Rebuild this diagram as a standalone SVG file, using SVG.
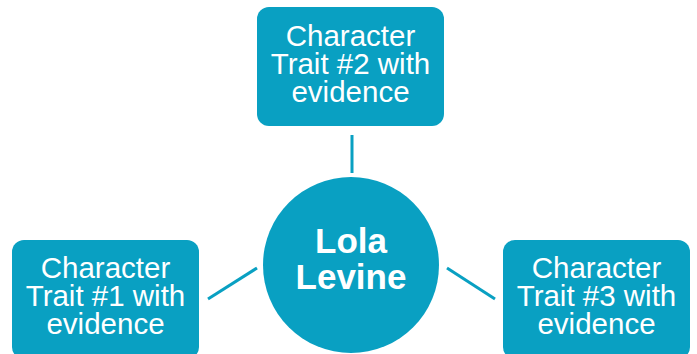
<svg xmlns="http://www.w3.org/2000/svg" width="697" height="354" viewBox="0 0 697 354">
<style>
.box{fill:#09a0c2}
.t{font-family:"Liberation Sans",Arial,sans-serif;font-size:29.5px;fill:#fff;text-anchor:middle}
.c{font-family:"Liberation Sans",Arial,sans-serif;font-size:35px;font-weight:bold;fill:#fff;text-anchor:middle}
.ln{stroke:#09a0c2;stroke-width:3;fill:none}
</style>
<rect width="697" height="354" fill="#fff"/>
<g id="connectors">
<line class="ln" x1="352" y1="135" x2="352" y2="173"/>
<line class="ln" x1="208" y1="299" x2="257" y2="268"/>
<line class="ln" x1="447" y1="268" x2="495" y2="299"/>
</g>
<g id="trait2">
<rect class="box" x="257" y="7" width="187" height="119" rx="12"/>
<text class="t" x="350.5" y="46">Character</text>
<text class="t" x="350.5" y="74">Trait #2 with</text>
<text class="t" x="350.5" y="102">evidence</text>
</g>
<g id="center">
<circle class="box" cx="351" cy="265" r="88"/>
<text class="c" x="351" y="253">Lola</text>
<text class="c" x="351" y="289">Levine</text>
</g>
<g id="trait1">
<rect class="box" x="12" y="240" width="187" height="119" rx="12"/>
<text class="t" x="105.5" y="278">Character</text>
<text class="t" x="105.5" y="306">Trait #1 with</text>
<text class="t" x="105.5" y="334">evidence</text>
</g>
<g id="trait3">
<rect class="box" x="503" y="240" width="187" height="119" rx="12"/>
<text class="t" x="596.5" y="278">Character</text>
<text class="t" x="596.5" y="306">Trait #3 with</text>
<text class="t" x="596.5" y="334">evidence</text>
</g>
</svg>
